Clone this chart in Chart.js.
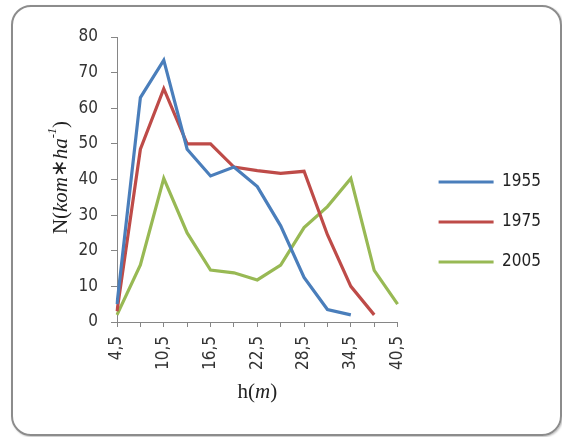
<!DOCTYPE html>
<html>
<head>
<meta charset="utf-8">
<script src="https://cdn.jsdelivr.net/npm/chart.js@4.4.1/dist/chart.umd.min.js"></script>
<style>
  html, body { margin: 0; padding: 0; background: #fff; }
  #frame { position: absolute; left: 11px; top: 5px; width: 547px; height: 427px;
           border: 2px solid #8c8c8c; border-radius: 20px; box-shadow: 1px 1px 2px rgba(0,0,0,0.25); }
  #wrap { position: absolute; left: 0; top: 0; width: 562px; height: 437px; }
</style>
</head>
<body>
<div id="frame"></div>
<div id="wrap"><canvas id="chart" width="562" height="437"></canvas></div>
<script>
// height classes h (m)
const heights = ['4,5', '7,5', '10,5', '13,5', '16,5', '19,5', '22,5', '25,5', '28,5', '31,5', '34,5', '37,5', '40,5'];
const n1955 = [5, 63, 73.5, 48.5, 41, 43.5, 38, 27, 12.5, 3.5, 2, null, null];
const n1975 = [3, 48.5, 65.5, 50, 50, 43.5, 42.5, 41.7, 42.3, 24.5, 10, 2, null];
const n2005 = [2, 16, 40.3, 25, 14.6, 13.8, 11.8, 16, 26.5, 32.4, 40.3, 14.5, 5];
const yTicks = [0, 10, 20, 30, 40, 50, 60, 70, 80];

const sansFont = "'DejaVu Sans Condensed', 'DejaVu Sans', sans-serif";
const serifFont = "'Liberation Serif', 'DejaVu Serif', serif";
const axisColor = '#868686';

// axis titles with italic parts, drawn as canvas text
function partFont(p, size) {
    return (p.it ? 'italic ' : '') + (p.sup ? size * 0.6 : size) + 'px ' + (p.font || serifFont);
}
function drawRich(ctx, parts, size) {
    let w = 0;
    parts.forEach(p => {
        ctx.font = partFont(p, size);
        p.w = ctx.measureText(p.t).width;
        w += p.w;
    });
    let x = -w / 2;
    parts.forEach(p => {
        ctx.font = partFont(p, size);
        ctx.fillText(p.t, x, p.sup ? -size * 0.38 : 0);
        x += p.w;
    });
}

const axisTitles = {
    id: 'axisTitles',
    afterDraw(chart) {
        const {ctx, chartArea} = chart;
        ctx.save();
        ctx.fillStyle = '#222';
        ctx.textBaseline = 'middle';
        ctx.textAlign = 'left';
        ctx.save();
        ctx.translate((chartArea.left + chartArea.right) / 2, chartArea.bottom + 70);
        drawRich(ctx, [{t: 'h('}, {t: 'm', it: true}, {t: ')'}], 21);
        ctx.restore();
        ctx.save();
        ctx.translate(chartArea.left - 56, (chartArea.top + chartArea.bottom) / 2 - 2);
        ctx.rotate(-Math.PI / 2);
        drawRich(ctx, [{t: 'N('}, {t: 'kom', it: true}, {t: '∗', font: "'DejaVu Sans', sans-serif"}, {t: 'ha', it: true}, {t: '-1', it: true, sup: true}, {t: ')'}], 21);
        ctx.restore();
        ctx.restore();
    }
};

const line = (label, data, color) => ({
    label, data, borderColor: color, backgroundColor: color,
    borderWidth: 3.2, pointRadius: 0, pointHoverRadius: 0, tension: 0, fill: false
});

new Chart(document.getElementById('chart'), {
    type: 'line',
    data: {
        labels: heights,
        datasets: [
            line('1955', n1955, '#4a7ebb'),
            line('1975', n1975, '#be4b48'),
            line('2005', n2005, '#98b954')
        ]
    },
    options: {
        responsive: false,
        animation: false,
        layout: { padding: { left: 77, top: 37, bottom: 30, right: 11 } },
        plugins: {
            tooltip: { enabled: false },
            legend: {
                position: 'right',
                maxWidth: 140,
                labels: {
                    usePointStyle: true, pointStyle: 'line', pointStyleWidth: 55,
                    padding: 23, color: '#222',
                    font: { family: sansFont, size: 17 }
                }
            }
        },
        scales: {
            x: {
                offset: false,
                grid: { display: true, drawOnChartArea: false, tickLength: 5, color: axisColor },
                border: { color: axisColor },
                ticks: {
                    autoSkip: false, minRotation: 90, maxRotation: 90, padding: 9,
                    color: '#333', font: { family: sansFont, size: 17 },
                    callback: (v, i) => i % 2 === 0 ? heights[i] : ''
                },
                afterFit(s) { s.height = 85; }
            },
            y: {
                min: yTicks[0], max: yTicks[yTicks.length - 1],
                grid: { display: true, drawOnChartArea: false, tickLength: 6, color: axisColor },
                border: { color: axisColor },
                ticks: { stepSize: 10, padding: 13, color: '#333', font: { family: sansFont, size: 17 } },
                afterBuildTicks(s) { s.ticks = yTicks.map(v => ({value: v})); },
                afterFit(s) { s.width = 40; }
            },
            gap: {
                position: 'right', display: true,
                grid: { display: false }, border: { display: false }, ticks: { display: false },
                afterFit(s) { s.width = 18; }
            }
        }
    },
    plugins: [axisTitles]
});
</script>
</body>
</html>
